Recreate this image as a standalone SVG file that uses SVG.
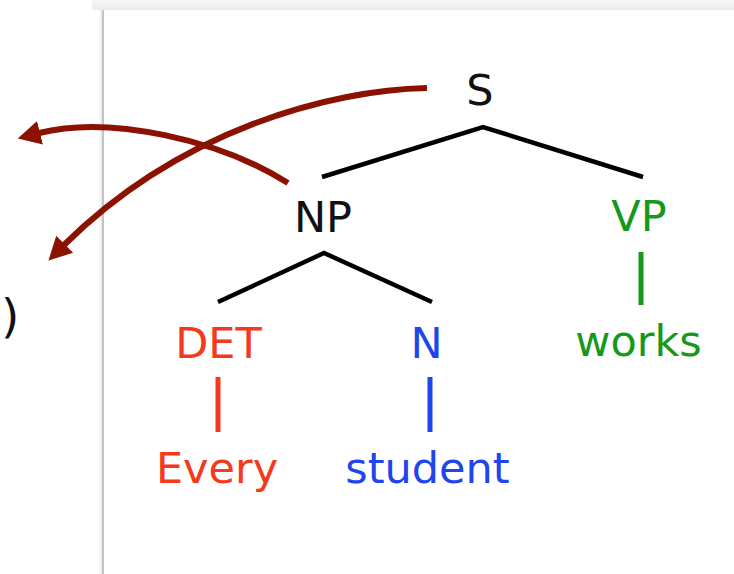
<svg xmlns="http://www.w3.org/2000/svg" width="734" height="574" viewBox="0 0 734 574">
  <style>
    text { font-family: "DejaVu Sans", Verdana, sans-serif; font-size: 43px; text-anchor: middle; }
    .black { fill: #111; }
    .red { fill: #f43a1c; }
    .blue { fill: #1f46ee; }
    .green { fill: #16991a; }
    .edge { fill: none; stroke: #000; stroke-width: 4.5; stroke-linecap: butt; stroke-linejoin: miter; }
    .leaf { fill: none; stroke-width: 5; }
    .link { fill: none; stroke: #8b1200; stroke-width: 6; }
  </style>
  <defs>
    <linearGradient id="topBand" x1="0" y1="0" x2="0" y2="1">
      <stop offset="0" stop-color="#f6f6f6"/>
      <stop offset="1" stop-color="#ececec"/>
    </linearGradient>
    <linearGradient id="edgeShade" x1="0" y1="0" x2="1" y2="0">
      <stop offset="0" stop-color="#ffffff" stop-opacity="0"/>
      <stop offset="1" stop-color="#e2e2e2"/>
    </linearGradient>
    <marker id="head" markerUnits="userSpaceOnUse" markerWidth="24" markerHeight="26" viewBox="0 -12 23 24" refX="1" refY="0" orient="auto">
      <path d="M0,-11.5 L22,0 L0,11.5 Z" fill="#8b1200"/>
    </marker>
  </defs>

  <!-- page background and window frame -->
  <rect x="0" y="0" width="734" height="574" fill="#ffffff"/>
  <rect x="92" y="0" width="642" height="10" fill="url(#topBand)"/>
  <rect x="98" y="10" width="4" height="564" fill="url(#edgeShade)"/>
  <line x1="103" y1="10" x2="103" y2="574" stroke="#c4c4c4" stroke-width="2"/>

  <text class="black" x="1" y="332" style="text-anchor:start;font-size:47px">)</text>

  <!-- tree nodes -->
  <g id="node-S"><text class="black" x="480" y="105">S</text></g>
  <g id="node-NP"><text class="black" x="323" y="232">NP</text></g>
  <g id="node-VP"><text class="green" x="639" y="231">VP</text></g>
  <g id="node-DET"><text class="red" x="218.5" y="358">DET</text></g>
  <g id="node-N"><text class="blue" x="426.5" y="358">N</text></g>
  <g id="node-works"><text class="green" x="638.5" y="356">works</text></g>
  <g id="node-Every"><text class="red" x="217" y="483">Every</text></g>
  <g id="node-student"><text class="blue" x="427.5" y="483">student</text></g>

  <!-- branches and arrows -->
  <g id="connectors">
    <polyline class="edge" points="322,177 483,127 643,177"/>
    <polyline class="edge" points="218,302 324,253 432,302"/>
    <line class="leaf" x1="641" y1="252" x2="641" y2="305" stroke="#16991a"/>
    <line class="leaf" x1="218" y1="377" x2="218" y2="432" stroke="#f43a1c"/>
    <line class="leaf" x1="430" y1="377" x2="430" y2="432" stroke="#1f46ee"/>
    <path class="link" d="M288,183 C220,140 110,115 39,133" marker-end="url(#head)"/>
    <path class="link" d="M427,88 C330,90 180,130 64,245" marker-end="url(#head)"/>
  </g>
</svg>
